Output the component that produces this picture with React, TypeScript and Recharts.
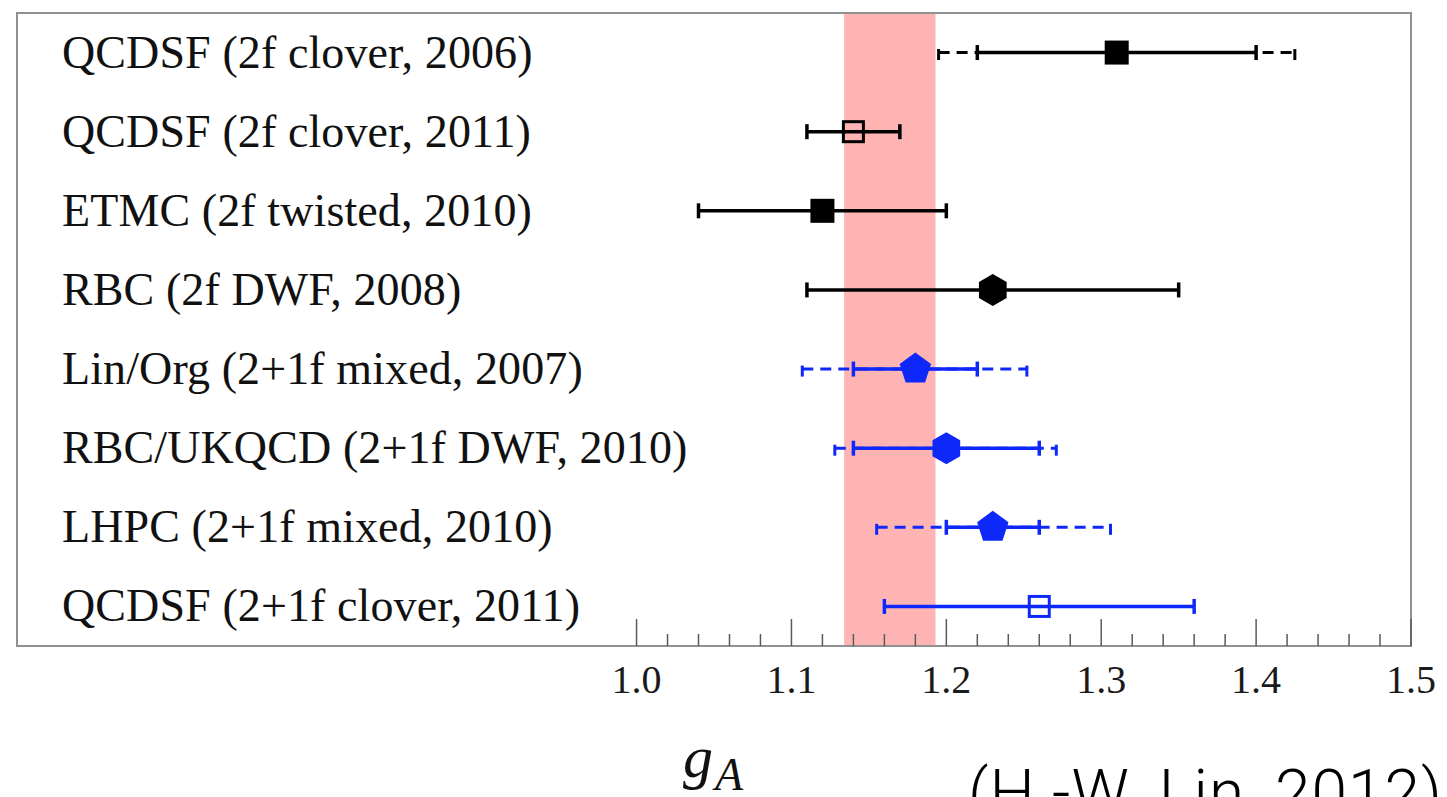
import React from 'react';
import { ScatterChart, Scatter, XAxis, YAxis, ErrorBar, ReferenceArea, Label } from 'recharts';

// ---------- data ----------
const categories = [
  'QCDSF (2f clover, 2006)',
  'QCDSF (2f clover, 2011)',
  'ETMC (2f twisted, 2010)',
  'RBC (2f DWF, 2008)',
  'Lin/Org (2+1f mixed, 2007)',
  'RBC/UKQCD (2+1f DWF, 2010)',
  'LHPC (2+1f mixed, 2010)',
  'QCDSF (2+1f clover, 2011)',
];
const centralValues = [1.31, 1.14, 1.12, 1.23, 1.18, 1.2, 1.23, 1.26];
const statLow = [1.22, 1.11, 1.04, 1.11, 1.14, 1.14, 1.2, 1.16];
const statHigh = [1.4, 1.17, 1.2, 1.35, 1.22, 1.26, 1.26, 1.36];
const totalLow = [1.195, null, null, null, 1.107, 1.128, 1.155, null];
const totalHigh = [1.425, null, null, null, 1.252, 1.271, 1.306, null];
const markerShapes = ['square', 'openSquare', 'square', 'hexagon', 'pentagon', 'hexagon', 'pentagon', 'openSquare'];
const markerColors = ['#000000', '#000000', '#000000', '#000000', '#0f28fa', '#0f28fa', '#0f28fa', '#0f28fa'];
const bandRange = [1.134, 1.193];
const xDomain = [0.6, 1.5];
const rowDomain = [-0.5, 7.5];
const majorTicks = [1.0, 1.1, 1.2, 1.3, 1.4, 1.5];
const minorTicks = [
  1.02, 1.04, 1.06, 1.08, 1.12, 1.14, 1.16, 1.18, 1.22, 1.24, 1.26, 1.28,
  1.32, 1.34, 1.36, 1.38, 1.42, 1.44, 1.46, 1.48,
];
const xAxisTitle = 'g';
const xAxisTitleSub = 'A';
const credit = '(H.-W. Lin, 2012)';

// ---------- derived table ----------
const rows = categories.map((name, i) => ({
  name,
  row: i,
  value: centralValues[i],
  statErr: [centralValues[i] - statLow[i], statHigh[i] - centralValues[i]],
  totErr:
    totalLow[i] != null && totalHigh[i] != null
      ? [centralValues[i] - (totalLow[i] as number), (totalHigh[i] as number) - centralValues[i]]
      : null,
  marker: markerShapes[i],
  color: markerColors[i],
}));
const allTicks = [...majorTicks, ...minorTicks].sort((a, b) => a - b);
const rowTicks = categories.map((_, i) => i);

const SERIF = "'Liberation Serif', 'Times New Roman', Times, serif";

function polygonPoints(cx: number, cy: number, r: number, n: number) {
  const pts: string[] = [];
  for (let k = 0; k < n; k++) {
    const a = -Math.PI / 2 + (2 * Math.PI * k) / n;
    pts.push(`${cx + r * Math.cos(a)},${cy + r * Math.sin(a)}`);
  }
  return pts.join(' ');
}

const Marker = (props: any) => {
  const { cx, cy, payload } = props;
  if (cx == null || cy == null || !payload) return <g />;
  const c = payload.color;
  switch (payload.marker) {
    case 'square':
      return <rect x={cx - 12} y={cy - 12} width={24} height={24} fill={c} />;
    case 'openSquare':
      return <rect x={cx - 10} y={cy - 10} width={20} height={20} fill="none" stroke={c} strokeWidth={3} />;
    case 'hexagon':
      return <polygon points={polygonPoints(cx, cy, 16, 6)} fill={c} />;
    case 'pentagon':
      return <polygon points={polygonPoints(cx, cy, 16.5, 5)} fill={c} />;
    default:
      return <circle cx={cx} cy={cy} r={12} fill={c} />;
  }
};

const XTick = (props: any) => {
  const { x, y, payload } = props;
  const v = payload.value as number;
  const isMajor = majorTicks.some((m) => Math.abs(m - v) < 1e-9);
  return (
    <g>
      <line x1={x} y1={y} x2={x} y2={y - (isMajor ? 27 : 12)} stroke="#5a5a5a" strokeWidth={1.5} />
      {isMajor && (
        <text x={x} y={y + 47} textAnchor="middle" fontFamily={SERIF} fontSize={40} fill="#1a1a1a">
          {v.toFixed(1)}
        </text>
      )}
    </g>
  );
};

const RowLabel = (props: any) => {
  const { x, y, payload } = props;
  return (
    <text
      x={x + 45}
      y={y + 15}
      textAnchor="start"
      fontFamily={SERIF}
      fontSize={46}
      letterSpacing={0.1}
      fill="#111"
    >
      {categories[payload.value]}
    </text>
  );
};

const AxisTitle = () => (
  <g>
    <text x={683} y={777} fontFamily={SERIF} fontStyle="italic" fontSize={60} fill="#111">
      {xAxisTitle}
    </text>
    <text x={715} y={790} fontFamily={SERIF} fontStyle="italic" fontSize={46} fill="#111">
      {xAxisTitleSub}
    </text>
    <text
      x={968}
      y={815}
      fontFamily="Roboto, 'Liberation Sans', Arial, sans-serif"
      fontWeight={300}
      fontSize={64}
      letterSpacing={1}
      fill="#000"
    >
      {credit}
    </text>
  </g>
);

export default function App() {
  return (
    <div style={{ position: 'fixed', left: 0, top: 0, width: 1447, height: 797, overflow: 'hidden', background: '#fff' }}>
      <ScatterChart width={1447} height={797} margin={{ top: 13, right: 36, bottom: 111, left: 16 }}>
        <XAxis
          type="number"
          dataKey="value"
          domain={xDomain}
          ticks={allTicks}
          interval={0}
          tickSize={0}
          tickMargin={0}
          axisLine={false}
          tickLine={false}
          tick={<XTick />}
          height={40}
          allowDataOverflow
        >
          <Label content={<AxisTitle />} />
        </XAxis>
        <YAxis
          type="number"
          dataKey="row"
          domain={rowDomain}
          reversed
          ticks={rowTicks}
          interval={0}
          width={1}
          tickSize={0}
          tickMargin={0}
          axisLine={false}
          tickLine={false}
          tick={<RowLabel />}
          allowDataOverflow
        />
        <ReferenceArea x1={bandRange[0]} x2={bandRange[1]} fill="#ffb4b4" fillOpacity={1} stroke="none" />
        <ReferenceArea
          x1={xDomain[0]}
          x2={xDomain[1]}
          y1={rowDomain[0]}
          y2={rowDomain[1]}
          fill="none"
          stroke="#909090"
          strokeWidth={2}
        />
        {rows.map((r) => (
          <Scatter key={r.name} data={[r]} dataKey="value" shape={<Marker />} isAnimationActive={false}>
            {r.totErr && (
              <ErrorBar
                dataKey="totErr"
                direction="x"
                width={7.5}
                stroke={r.color}
                strokeWidth={3}
                strokeDasharray="11 7"
                isAnimationActive={false}
              />
            )}
            <ErrorBar dataKey="statErr" direction="x" width={7.5} stroke={r.color} strokeWidth={3.5} isAnimationActive={false} />
          </Scatter>
        ))}
      </ScatterChart>
    </div>
  );
}
